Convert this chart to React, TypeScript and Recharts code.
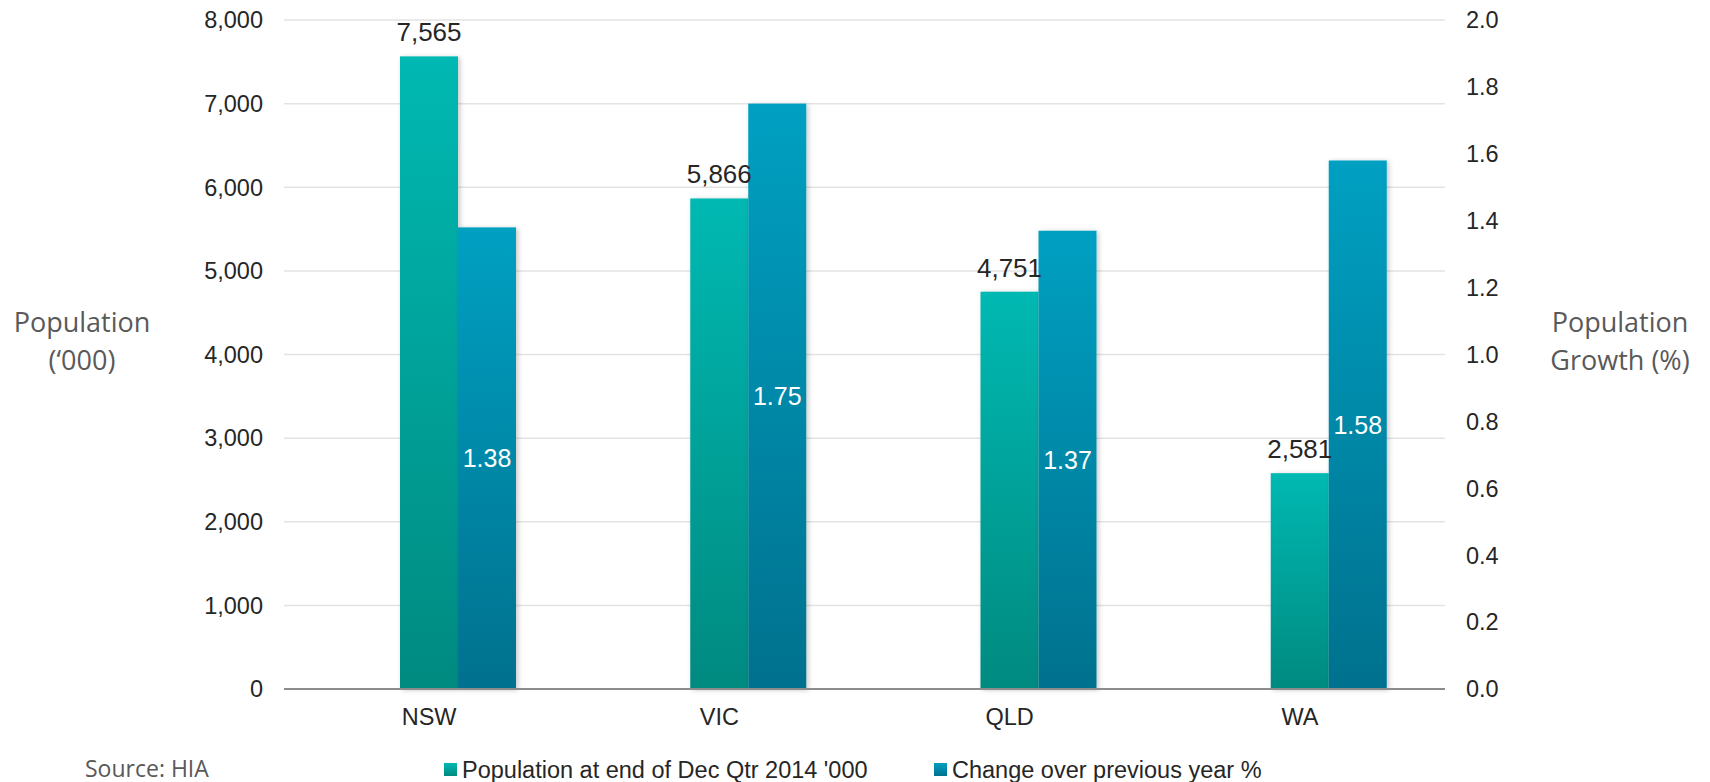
import {
  Bar,
  BarChart,
  CartesianGrid,
  LabelList,
  Legend,
  XAxis,
  YAxis,
} from 'recharts'

const STATES = ['NSW', 'VIC', 'QLD', 'WA']
const POPULATION = [7565, 5866, 4751, 2581]
const GROWTH = [1.38, 1.75, 1.37, 1.58]
const LEFT_TICKS = [0, 1000, 2000, 3000, 4000, 5000, 6000, 7000, 8000]
const RIGHT_TICKS = [0, 0.2, 0.4, 0.6, 0.8, 1.0, 1.2, 1.4, 1.6, 1.8, 2.0]

const SERIES_NAMES = ["Population at end of Dec Qtr 2014 '000", 'Change over previous year %']

const data = STATES.map((state, i) => ({
  state,
  population: POPULATION[i],
  growth: GROWTH[i],
}))

const ARIAL = '"Liberation Sans", Arial, sans-serif'
const SOFT = '"Open Sans", sans-serif'

const tickStyle = { fontFamily: ARIAL, fontSize: 23.5, fill: '#262626' }

function ShadowBar(props: any) {
  const { x, y, width, height, fill } = props
  if (!height || height <= 0) return null
  return <rect x={x} y={y} width={width} height={height} fill={fill} filter="url(#barShadow)" />
}

function AxisTitle({ lines, cx }: { lines: string[]; cx: number }) {
  return (
    <text textAnchor="middle" fontFamily={SOFT} fontSize={27} fill="#595959">
      {lines.map((line, i) => (
        <tspan key={line} x={cx} y={323 + i * 38} dy="0.35em">
          {line}
        </tspan>
      ))}
    </text>
  )
}

function ChartLegend() {
  const marker = (from: string, to: string) => ({
    position: 'absolute' as const,
    top: 31,
    width: 13,
    height: 13,
    background: `linear-gradient(${from}, ${to})`,
  })
  const text = {
    position: 'absolute' as const,
    top: 23,
    lineHeight: '30px',
    fontFamily: ARIAL,
    fontSize: 23.5,
    color: '#262626',
    whiteSpace: 'nowrap' as const,
  }
  return (
    <div style={{ position: 'relative', height: 50 }}>
      <span
        style={{
          position: 'absolute',
          left: 85,
          top: 22,
          lineHeight: '28px',
          fontFamily: SOFT,
          fontSize: 23,
          color: '#595959',
        }}
      >
        Source: HIA
      </span>
      <span style={{ ...marker('#00b9b2', '#008a80'), left: 444 }} />
      <span style={{ ...text, left: 462 }}>{SERIES_NAMES[0]}</span>
      <span style={{ ...marker('#00a0c2', '#00718e'), left: 934 }} />
      <span style={{ ...text, left: 952 }}>{SERIES_NAMES[1]}</span>
    </div>
  )
}

export default function App() {
  return (
    <div style={{ position: 'absolute', left: 0, top: 0, background: '#fff' }}>
      <BarChart
        width={1710}
        height={782}
        data={data}
        margin={{ top: 20, right: 0, bottom: 0, left: 0 }}
        barSize={58}
        barGap={0}
      >
        <defs>
          <linearGradient id="tealGrad" x1="0" y1="0" x2="0" y2="1">
            <stop offset="0%" stopColor="#00b9b2" />
            <stop offset="100%" stopColor="#008a80" />
          </linearGradient>
          <linearGradient id="blueGrad" x1="0" y1="0" x2="0" y2="1">
            <stop offset="0%" stopColor="#00a0c2" />
            <stop offset="100%" stopColor="#00718e" />
          </linearGradient>
          <filter id="barShadow" x="-20%" y="-5%" width="150%" height="115%">
            <feDropShadow dx="2" dy="1" stdDeviation="2.5" floodColor="#000" floodOpacity="0.22" />
          </filter>
        </defs>
        <CartesianGrid yAxisId="left" vertical={false} stroke="#e3e3e3" strokeWidth={1.5} />
        <XAxis
          dataKey="state"
          height={43}
          tickLine={false}
          tickSize={0}
          tickMargin={19}
          axisLine={{ stroke: '#8c8c8c', strokeWidth: 2 }}
          tick={tickStyle}
        />
        <YAxis
          yAxisId="left"
          width={284}
          domain={[0, 8000]}
          ticks={LEFT_TICKS}
          tickFormatter={(v: number) => v.toLocaleString('en-US')}
          axisLine={false}
          tickLine={false}
          tickSize={0}
          tickMargin={21}
          tick={tickStyle}
          label={<AxisTitle lines={['Population', '(\u2018000)']} cx={82} />}
        />
        <YAxis
          yAxisId="right"
          orientation="right"
          width={265}
          domain={[0, 2]}
          ticks={RIGHT_TICKS}
          tickFormatter={(v: number) => v.toFixed(1)}
          axisLine={false}
          tickLine={false}
          tickSize={0}
          tickMargin={21}
          tick={{ ...tickStyle, textAnchor: 'start' }}
          label={<AxisTitle lines={['Population', 'Growth (%)']} cx={1620} />}
        />
        {/* empty slot so the population bar sits on the category centre */}
        <Bar yAxisId="left" dataKey="pad" fill="none" isAnimationActive={false} />
        <Bar
          yAxisId="left"
          dataKey="population"
          name={SERIES_NAMES[0]}
          fill="url(#tealGrad)"
          shape={ShadowBar}
          isAnimationActive={false}
        >
          <LabelList
            dataKey="population"
            position="top"
            offset={15}
            formatter={(v: any) => Number(v).toLocaleString('en-US')}
            style={{ fontFamily: ARIAL, fontSize: 26, fill: '#262626' }}
          />
        </Bar>
        <Bar
          yAxisId="right"
          dataKey="growth"
          name={SERIES_NAMES[1]}
          fill="url(#blueGrad)"
          shape={ShadowBar}
          isAnimationActive={false}
        >
          <LabelList
            dataKey="growth"
            position="center"
            formatter={(v: any) => Number(v).toFixed(2)}
            style={{ fontFamily: ARIAL, fontSize: 25, fill: '#ffffff' }}
          />
        </Bar>
        <Legend verticalAlign="bottom" content={() => <ChartLegend />} />
      </BarChart>
    </div>
  )
}
